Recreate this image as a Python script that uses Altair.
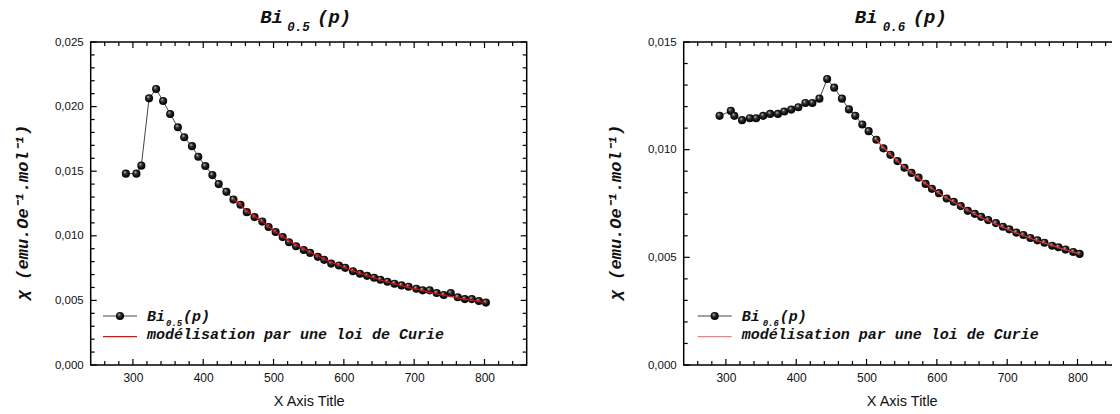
import altair as alt
import pandas as pd

# ---------------- data ----------------
T_05 = [290, 305, 312, 323, 333, 343, 353, 364, 373, 384, 393, 403, 413, 422, 433,
        443, 453, 462, 473, 484, 493, 503, 513, 522, 532, 543, 552, 563, 572, 582,
        593, 602, 613, 623, 633, 643, 652, 662, 672, 682, 692, 703, 712, 722, 732,
        742, 752, 762, 772, 782, 792, 802]
CHI_05 = [0.01481, 0.01481, 0.01543, 0.02064, 0.02136, 0.02043, 0.01943, 0.01840, 0.01763, 0.01694,
          0.01612, 0.01540, 0.01470, 0.01400, 0.01340, 0.01280, 0.01240, 0.01183, 0.01145, 0.01110,
          0.01068, 0.01029, 0.00990, 0.00950, 0.00919, 0.00890, 0.00868, 0.00837, 0.00814, 0.00785,
          0.00770, 0.00752, 0.00726, 0.00706, 0.00690, 0.00675, 0.00660, 0.00644, 0.00629, 0.00616,
          0.00606, 0.00590, 0.00578, 0.00578, 0.00557, 0.00542, 0.00557, 0.00524, 0.00510, 0.00510,
          0.00495, 0.00483]
CURIE_T_05 = [443, 453, 462, 473, 484, 493, 503, 513, 522, 532, 543, 552, 563, 572, 582, 593, 602,
              613, 623, 633, 643, 652, 662, 672, 682, 692, 703, 712, 722, 732, 742, 752, 762, 772,
              782, 792, 802]
CURIE_05 = [0.01285, 0.01240, 0.01190, 0.01150, 0.01110, 0.01070, 0.01030, 0.00995, 0.00960, 0.00930,
            0.00900, 0.00870, 0.00845, 0.00820, 0.00795, 0.00772, 0.00752, 0.00730, 0.00710, 0.00692,
            0.00674, 0.00658, 0.00642, 0.00627, 0.00613, 0.00599, 0.00586, 0.00574, 0.00562, 0.00550,
            0.00540, 0.00529, 0.00519, 0.00509, 0.00500, 0.00491, 0.00482]

T_06 = [291, 307, 312, 323, 334, 343, 353, 363, 374, 383, 393, 403, 413, 423, 433, 444, 454, 465,
        475, 484, 494, 503, 514, 524, 534, 544, 554, 564, 574, 584, 593, 603, 614, 624, 634, 644,
        654, 663, 673, 684, 694, 703, 713, 723, 733, 743, 753, 764, 773, 783, 794, 803]
CHI_06 = [0.01157, 0.01180, 0.01157, 0.01137, 0.01146, 0.01146, 0.01157, 0.01166, 0.01166, 0.01177,
          0.01186, 0.01197, 0.01217, 0.01217, 0.01237, 0.01328, 0.01288, 0.01237, 0.01187, 0.01157,
          0.01117, 0.01086, 0.01046, 0.01006, 0.00976, 0.00947, 0.00916, 0.00892, 0.00870, 0.00841,
          0.00818, 0.00798, 0.00773, 0.00758, 0.00738, 0.00716, 0.00702, 0.00688, 0.00673, 0.00659,
          0.00642, 0.00630, 0.00615, 0.00604, 0.00590, 0.00579, 0.00568, 0.00554, 0.00547, 0.00536,
          0.00525, 0.00516]
CURIE_T_06 = [514, 524, 534, 544, 554, 564, 574, 584, 593, 603, 614, 624, 634, 644, 654, 663, 673,
              684, 694, 703, 713, 723, 733, 743, 753, 764, 773, 783, 794, 803]
CURIE_06 = [0.01047, 0.01010, 0.00978, 0.00947, 0.00918, 0.00892, 0.00867, 0.00843, 0.00820, 0.00798,
            0.00776, 0.00756, 0.00737, 0.00718, 0.00701, 0.00685, 0.00669, 0.00654, 0.00640, 0.00627,
            0.00613, 0.00601, 0.00589, 0.00577, 0.00566, 0.00555, 0.00545, 0.00535, 0.00525, 0.00516]

X_MAJOR = [300, 400, 500, 600, 700, 800]
X_MINOR = [260, 280, 320, 340, 360, 380, 420, 440, 460, 480, 520, 540, 560, 580,
           620, 640, 660, 680, 720, 740, 760, 780, 820, 840]
Y_MAJOR_05 = [0.0, 0.005, 0.010, 0.015, 0.020, 0.025]
Y_MINOR_05 = [0.001, 0.002, 0.003, 0.004, 0.006, 0.007, 0.008, 0.009, 0.011, 0.012, 0.013, 0.014,
              0.016, 0.017, 0.018, 0.019, 0.021, 0.022, 0.023, 0.024]
Y_MAJOR_06 = [0.0, 0.005, 0.010, 0.015]
Y_MINOR_06 = [0.001, 0.002, 0.003, 0.004, 0.006, 0.007, 0.008, 0.009, 0.011, 0.012, 0.013, 0.014]

SERIES_05 = ["Bi", "0.5", "(p)"]
SERIES_06 = ["Bi", "0.6", "(p)"]
FIT_LABEL = "modélisation par une loi de Curie"
Y_TITLE = "χ  (emu.Oe⁻¹.mol⁻¹)"
X_TITLE = "X Axis Title"

# ---------------- style ----------------
W, H = 436, 323
MONO = "Liberation Mono"
SANS = "Liberation Sans"
X_DOMAIN = [240, 860]

SPHERE = alt.RadialGradient(
    gradient="radial",
    stops=[alt.GradientStop(color="#eeeeee", offset=0),
           alt.GradientStop(color="#404040", offset=0.3),
           alt.GradientStop(color="#101010", offset=0.65),
           alt.GradientStop(color="#000000", offset=1)],
    x1=0.35, y1=0.3, r1=0, x2=0.5, y2=0.5, r2=0.55,
)

one = pd.DataFrame({"k": [0]})


def panel(T, chi, cT, cchi, ymax, ymaj, ymin, name, tpos, lpos, red, legend_red):
    xs = alt.Scale(domain=X_DOMAIN, nice=False, zero=False)
    ys = alt.Scale(domain=[0, ymax], nice=False, zero=False)
    xaxis = alt.Axis(values=X_MAJOR, format="d", title=X_TITLE, ticks=False, domain=False,
                     grid=False, labelFont=SANS, labelFontSize=12, labelColor="#111",
                     labelPadding=7, titleFont=SANS, titleFontSize=14.5,
                     titleFontWeight="normal", titleColor="#111", titleY=36,
                     titleBaseline="middle")
    yaxis = alt.Axis(values=ymaj, format=".3f", labelExpr="replace(datum.label, '.', ',')",
                     title=Y_TITLE, ticks=False, domain=False, grid=False, labelFont=SANS,
                     labelFontSize=11.5, labelColor="#111", labelPadding=7.5,
                     titleFont=MONO, titleFontSize=17, titleFontStyle="italic",
                     titleFontWeight="bold", titleColor="#111", titleAngle=270,
                     titleX=-68, titleY=170, titleAlign="center", titleBaseline="middle")

    def X(f="T"):
        return alt.X(f"{f}:Q", scale=xs, axis=xaxis)

    def Y(f="chi"):
        return alt.Y(f"{f}:Q", scale=ys, axis=yaxis)

    df = pd.DataFrame({"T": T, "chi": chi})
    cf = pd.DataFrame({"T": cT, "chi": cchi})

    layers = []
    # data line + spheres + Curie fit on top
    layers.append(alt.Chart(df).mark_line(color="#444", strokeWidth=1).encode(x=X(), y=Y()))
    layers.append(alt.Chart(df).mark_circle(fill=SPHERE, size=66, opacity=1).encode(x=X(), y=Y()))
    layers.append(alt.Chart(cf).mark_line(color=red, strokeWidth=1.1).encode(x=X(), y=Y()))

    # inward ticks
    ymj = pd.DataFrame({"chi": ymaj})
    ymn = pd.DataFrame({"chi": ymin})
    xmj = pd.DataFrame({"T": X_MAJOR})
    xmn = pd.DataFrame({"T": X_MINOR})
    tk = dict(color="#000", strokeWidth=1.2)
    for d, ln in ((ymj, 6), (ymn, 4)):
        layers.append(alt.Chart(d).mark_rule(**tk).encode(y=Y(), x=alt.value(0), x2=alt.value(ln)))
        layers.append(alt.Chart(d).mark_rule(**tk).encode(y=Y(), x=alt.value(W - ln), x2=alt.value(W)))
    for d, ln in ((xmj, 6), (xmn, 4)):
        layers.append(alt.Chart(d).mark_rule(**tk).encode(x=X(), y=alt.value(H - ln), y2=alt.value(H)))
        layers.append(alt.Chart(d).mark_rule(**tk).encode(x=X(), y=alt.value(0), y2=alt.value(ln)))

    # title  Bi_{0.x}(p)
    tb = dict(font=MONO, fontStyle="italic", fontWeight="bold", color="#111", align="left")
    tx = tpos
    layers.append(alt.Chart(one).mark_text(text=name[0], fontSize=19, baseline="alphabetic", **tb)
                  .encode(x=alt.value(tx[0]), y=alt.value(-19.5)))
    layers.append(alt.Chart(one).mark_text(text=name[1], fontSize=12.5, baseline="alphabetic", **tb)
                  .encode(x=alt.value(tx[1]), y=alt.value(-11.5)))
    layers.append(alt.Chart(one).mark_text(text=name[2], fontSize=19, baseline="alphabetic", **tb)
                  .encode(x=alt.value(tx[2]), y=alt.value(-19.5)))

    # legend
    lx = lpos
    layers.append(alt.Chart(one).mark_rule(color="#444", strokeWidth=1)
                  .encode(x=alt.value(lx[0]), x2=alt.value(lx[0] + 34), y=alt.value(274)))
    layers.append(alt.Chart(one).mark_circle(fill=SPHERE, size=66, opacity=1)
                  .encode(x=alt.value(lx[0] + 17), y=alt.value(274)))
    layers.append(alt.Chart(one).mark_rule(color=legend_red, strokeWidth=1.2)
                  .encode(x=alt.value(lx[0]), x2=alt.value(lx[0] + 34), y=alt.value(294.7)))
    layers.append(alt.Chart(one).mark_text(text=name[0], fontSize=15, baseline="alphabetic", **tb)
                  .encode(x=alt.value(lx[1]), y=alt.value(278.7)))
    layers.append(alt.Chart(one).mark_text(text=name[1], fontSize=9, baseline="alphabetic", **tb)
                  .encode(x=alt.value(lx[2]), y=alt.value(284)))
    layers.append(alt.Chart(one).mark_text(text=name[2], fontSize=15, baseline="alphabetic", **tb)
                  .encode(x=alt.value(lx[3]), y=alt.value(278.7)))
    layers.append(alt.Chart(one).mark_text(text=FIT_LABEL, fontSize=15, baseline="alphabetic", **tb)
                  .encode(x=alt.value(lx[1]), y=alt.value(297.3)))

    return alt.layer(*layers).properties(width=W, height=H)


left = panel(T_05, CHI_05, CURIE_T_05, CURIE_05, 0.025, Y_MAJOR_05, Y_MINOR_05, SERIES_05,
             (169.5, 196.5, 226.3), (12.3, 56.3, 75.3, 92.3), "#ff0000", "#ff0000")
right = panel(T_06, CHI_06, CURIE_T_06, CURIE_06, 0.015, Y_MAJOR_06, Y_MINOR_06, SERIES_06,
              (171, 199, 229), (14, 58, 79, 96), "#ff2a2a", "#ff7a7a")

# plot origin of the left panel at page (90.7, 42); page margin is 8px;
# the svg is kept 1104 x 398 so that it fits the page without being shrunk
chart = (
    alt.hconcat(left, right, spacing=157, bounds="flush")
    .properties(
        autosize=alt.AutoSizeParams(type="none"),
        padding={"left": 82.7, "top": 34, "right": 1104 - 82.7, "bottom": 398 - 34},
        background="white",
    )
    .configure_view(stroke="#000", strokeWidth=1.5)
)

chart.save("out.html", embed_options={"renderer": "svg", "actions": False})
